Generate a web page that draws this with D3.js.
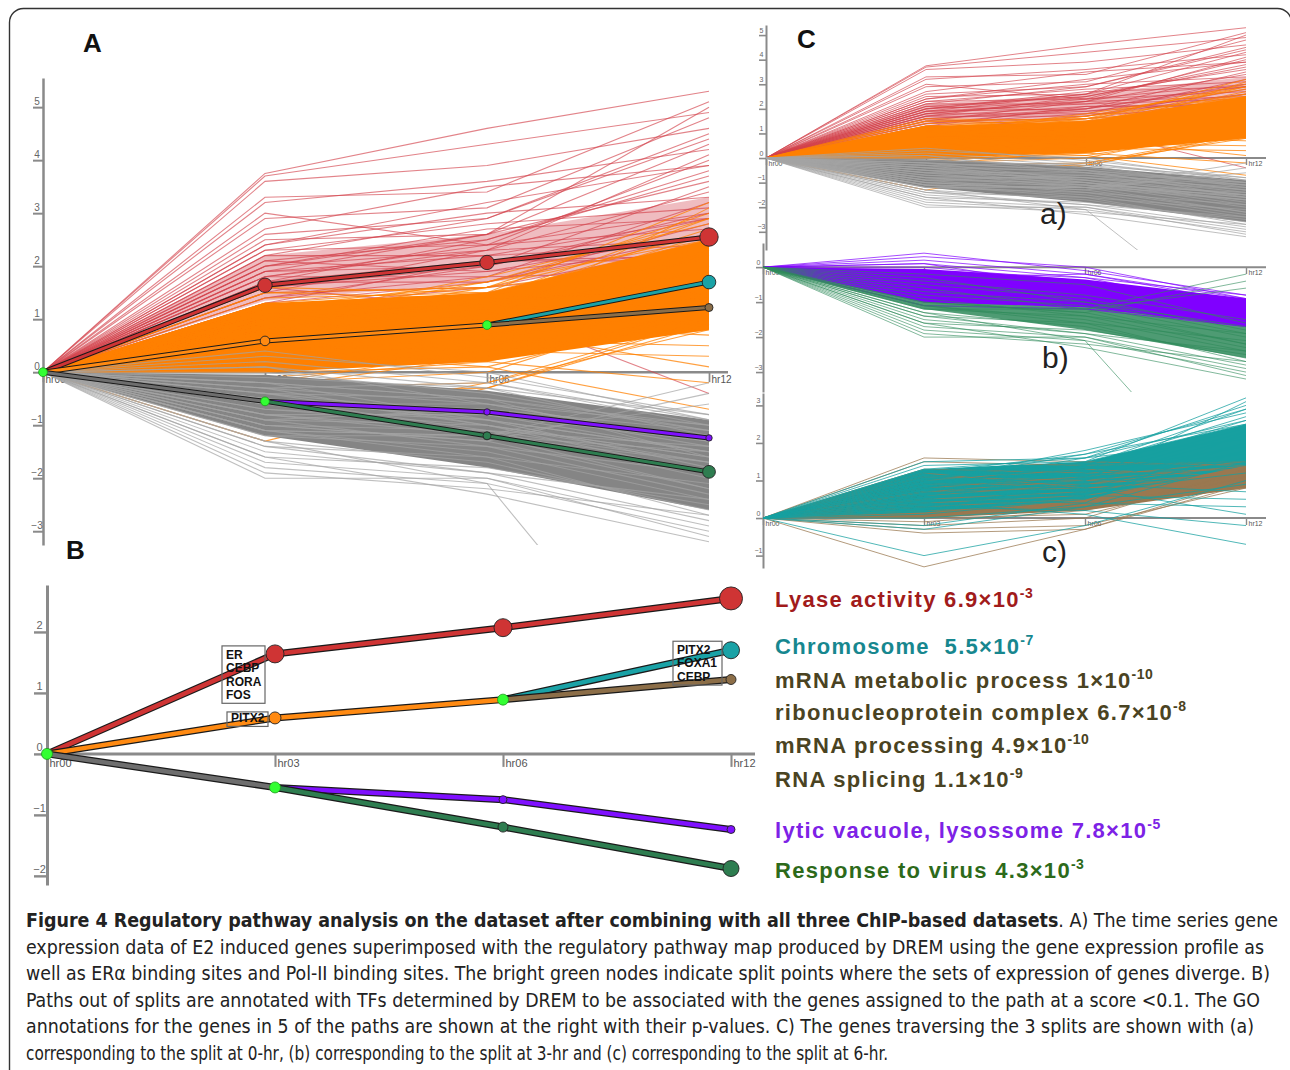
<!DOCTYPE html>
<html><head><meta charset="utf-8">
<script src="https://cdn.jsdelivr.net/npm/d3@7"></script>
<style>body{margin:0;background:#fff}svg{display:block}</style>
</head><body>
<svg id="fig" width="1290" height="1070"></svg>
<script>
// ---------------- DATA ----------------
const timeLabels = ["hr00","hr03","hr06","hr12"];
const ticksA = [-3,-2,-1,0,1,2,3,4,5];
const ticksB = [-2,-1,0,1,2];
const ticksCa = [-3,-2,-1,0,1,2,3,4,5];
const ticksCb = [-3,-2,-1,0];
const ticksCc = [-1,0,1,2,3];

// genes following the upper (red) path out of the 0-hr split
const redGenes = [
 [0,3.75,4.6,5.3],[0,3.7,4.3,4.9],[0,3.6,3.9,4.6],[0,3.3,3.4,5.1],[0,3.2,3.6,4.2],
 [0,2.9,3.1,4.8],[0,2.7,3.5,3.9],[0,2.6,2.9,4.4],[0,2.5,2.6,3.6],[0,2.4,3.0,3.3],
 [0,2.3,2.4,4.0],[0,2.3,2.8,3.1],[0,2.2,2.2,2.9],[0,2.1,2.5,3.7],[0,2.1,1.9,2.6],
 [0,2.0,2.3,3.4],[0,2.0,2.7,2.9],[0,1.9,2.0,3.0],[0,1.9,2.2,2.4],[0,1.8,1.8,3.2],
 [0,1.8,2.4,2.7],[0,1.7,2.1,2.2],[0,1.7,1.7,2.8],[0,1.6,2.0,3.5],[0,1.6,1.9,2.3],
 [0,1.5,2.3,2.5],[0,1.5,1.6,2.0],[0,1.4,2.0,2.9],[0,1.4,1.8,1.9],[0,1.3,1.7,2.6],
 [0,1.3,2.1,2.1],[0,1.2,1.6,2.4],[0,1.1,1.5,2.2],[0,1.0,1.4,1.8],[0,0.9,1.3,2.0],
 [0,2.2,2.9,4.5],[0,2.0,2.6,5.0],[0,1.8,2.3,4.1],[0,3.0,2.4,3.0],[0,1.6,1.2,-0.4],
 [0,2.4,3.2,3.9],[0,1.9,2.6,4.3],[0,1.7,2.5,3.8]
];
const redBandLo = [0,1.35,1.7,2.1];
const redBandHi = [0,2.2,2.6,3.3];

// orange path genes, split at 6 hr into teal and brown
const tealGenes = [
 [0,1.4,1.5,3.2],[0,1.3,1.6,3.0],[0,1.2,1.7,2.9],[0,1.0,1.8,2.8],[0,0.9,1.4,2.7],
 [0,1.1,1.3,2.6],[0,0.8,1.5,2.5],[0,0.7,1.2,2.4],[0,1.3,1.1,2.3],[0,0.6,1.0,2.2],
 [0,0.9,1.6,2.1],[0,0.5,0.9,2.0],[0,1.0,1.2,1.9],[0,0.4,0.8,1.8],[0,0.8,1.3,1.7],
 [0,0.3,0.7,1.6],[0,1.2,1.4,1.5],[0,0.6,1.1,1.4],[0,0.2,0.6,2.0],[0,-0.2,0.4,2.3],
 [0,0.1,0.5,1.8],[0,-0.3,0.3,1.5],[0,1.1,0.9,0.7],[0,0.7,0.6,0.5],[0,0.5,0.4,0.3],
 [0,0.9,0.8,0.1],[0,0.3,0.2,-0.2],[0,0.4,0.1,-0.7],[0,-1.0,-0.2,1.0],[0,1.5,1.6,2.6],
 [0,0.2,1.0,3.1],[0,0.6,1.4,2.9],[0,1.0,1.7,2.5],[0,0.8,0.7,1.2],[0,0.0,0.3,0.9]
];
const tealBandLo = [0,0.15,0.5,1.4];
const tealBandHi = [0,1.3,1.5,2.5];
const brownGenes = [
 [0,1.6,1.5,1.4],[0,1.5,1.4,1.5],[0,1.3,1.2,1.3],[0,1.1,1.0,1.4],[0,0.9,0.9,1.2],
 [0,0.7,0.8,1.1],[0,0.5,0.7,1.3],[0,0.3,0.5,1.0],[0,0.1,0.4,0.9],[0,-0.1,0.2,1.2],
 [0,-0.3,-0.2,0.8],[0,-0.4,-0.3,1.0],[0,-1.3,-0.3,0.9],[0,0.8,1.1,1.5],[0,0.6,0.9,1.4],
 [0,0.4,0.6,1.2],[0,1.0,1.3,1.1],[0,0.2,0.3,0.8],[0,1.2,0.8,1.0],[0,0.0,0.1,1.1],
 [0,0.7,1.0,0.9],[0,-0.2,0.0,1.3]
];
const brownBandLo = [0,0.0,0.2,0.8];
const brownBandHi = [0,1.1,1.2,1.5];

// gray path genes, split at 3 hr into purple and green
const purpleGenes = [
 [0,0.4,-0.1,-0.8],[0,0.3,0.0,-0.9],[0,0.2,-0.2,-1.0],[0,0.1,-0.3,-0.8],[0,0.0,-0.4,-1.1],
 [0,-0.1,-0.3,-1.2],[0,-0.2,-0.5,-1.0],[0,-0.3,-0.6,-1.3],[0,-0.4,-0.5,-1.1],[0,-0.5,-0.7,-1.4],
 [0,-0.6,-0.8,-1.2],[0,-0.7,-0.9,-1.5],[0,-0.8,-0.8,-1.3],[0,-0.9,-1.0,-1.6],[0,-1.0,-1.1,-1.4],
 [0,-1.1,-1.2,-1.7],[0,-0.2,-0.9,-1.5],[0,-0.4,-1.0,-1.6],[0,-0.6,-0.6,-1.0],[0,-0.3,-0.2,-0.9],
 [0,-0.8,-1.2,-1.5],[0,-0.5,-1.1,-1.7],[0,0.1,-0.6,-1.3],[0,-0.9,-0.7,-1.1]
];
const purpleBandLo = [0,-1.0,-1.15,-1.7];
const purpleBandHi = [0,-0.05,-0.35,-0.9];
const greenGenes = [
 [0,-0.2,-0.5,-1.6],[0,-0.5,-0.9,-1.8],[0,-0.8,-1.1,-2.0],[0,-1.0,-1.3,-2.2],[0,-1.1,-1.5,-2.4],
 [0,-1.2,-1.4,-1.9],[0,-1.3,-1.7,-2.6],[0,-1.4,-1.6,-2.1],[0,-1.5,-1.9,-2.8],[0,-1.6,-1.8,-2.5],
 [0,-1.7,-2.0,-2.9],[0,-1.8,-2.1,-3.0],[0,-2.0,-2.0,-3.1],[0,-1.9,-2.2,-2.7],[0,-1.2,-1.2,-0.2],
 [0,-1.0,-1.3,-0.4],[0,-1.1,-1.2,-0.6],[0,-1.3,-2.1,-7.2],[0,-0.9,-1.4,-2.3],[0,-0.7,-1.0,-1.7],
 [0,-1.1,-1.6,-2.7],[0,-0.6,-1.2,-2.2],[0,-1.4,-1.9,-2.4],[0,-0.4,-0.8,-1.5],[0,-1.6,-2.3,-3.2],
 [0,-0.3,-1.0,-1.9]
];
const greenBandLo = [0,-1.2,-1.8,-2.6];
const greenBandHi = [0,-0.55,-1.0,-1.55];

// DREM regulatory paths (mean expression at each node), with start time index
const pathRed = [0,1.64,2.07,2.55];      const pathRedStart = 0;
const pathOrange = [0,0.59,0.89];        const pathOrangeStart = 0;
const pathTeal = [0.89,1.7];             const pathTealStart = 2;
const pathBrown = [0.89,1.22];           const pathBrownStart = 2;
const pathGray = [0,-0.55];              const pathGrayStart = 0;
const pathPurple = [-0.55,-0.75,-1.24];  const pathPurpleStart = 1;
const pathGreen = [-0.55,-1.2,-1.88];    const pathGreenStart = 1;
// node standard deviations (node size)
const sdRed = [null,0.9,0.9,1.15];
const sdOrange = [null,0.6,null];
const sdTeal = [null,0.85];
const sdBrown = [null,0.5];
const sdPurple = [null,0.4,0.4];
const sdGreen = [null,0.5,0.8];
const splitNodes = [[0,0],[1,-0.55],[2,0.89]]; // [time index, value]
const sdSplit = 0.55;

const tfRed = ["ER","CEBP","RORA","FOS"];
const tfOrange = ["PITX2"];
const tfTeal = ["PITX2","FOXA1","CEBP"];

const goTerms = ["Lyase activity 6.9×10","Chromosome  5.5×10","mRNA metabolic process 1×10",
 "ribonucleoprotein complex 6.7×10","mRNA processing 4.9×10","RNA splicing 1.1×10",
 "lytic vacuole, lysossome 7.8×10","Response to virus 4.3×10"];
const goExp = ["-3","-7","-10","-8","-10","-9","-5","-3"];

const captionBold = "Figure 4 Regulatory pathway analysis on the dataset after combining with all three ChIP-based datasets";
const captionLines = [
 ". A) The time series gene",
 "expression data of E2 induced genes superimposed with the regulatory pathway map produced by DREM using the gene expression profile as",
 "well as ERα binding sites and Pol-II binding sites. The bright green nodes indicate split points where the sets of expression of genes diverge. B)",
 "Paths out of splits are annotated with TFs determined by DREM to be associated with the genes assigned to the path at a score <0.1. The GO",
 "annotations for the genes in 5 of the paths are shown at the right with their p-values. C) The genes traversing the 3 splits are shown with (a)",
 "corresponding to the split at 0-hr, (b) corresponding to the split at 3-hr and (c) corresponding to the split at 6-hr."
];

// ---------------- DRAWING ----------------
const svg = d3.select("#fig");
const FONT = "'Liberation Sans', Arial, Helvetica, sans-serif";
const COL = {
  redLine:"#d2404a", orange:"#ff8000", gray:"#8c8c8c", purple:"#8000ff", green:"#2f8a5a",
  teal:"#17a0a0", brown:"#9a7850",
  pRed:"#cf3434", pOrange:"#ff8a12", pGray:"#6e6e6e", pTeal:"#1aa2a6", pBrown:"#8c6e48",
  pPurple:"#7f10ff", pGreen:"#2e7d50", split:"#33ff33", axis:"#8a8a8a"
};

// frame
svg.append("rect").attr("x",9.5).attr("y",8.5).attr("width",1282).attr("height",1080)
  .attr("rx",14).attr("fill","none").attr("stroke","#333").attr("stroke-width",1.4);

let clipId = 0;
function makePanel(cfg){
  const g = svg.append("g");
  const x = d3.scalePoint().domain(timeLabels).range(cfg.xr);
  const y = d3.scaleLinear().domain(cfg.yd).range(cfg.yr);
  const ax = d3.axisLeft(y).tickValues(cfg.ticks).tickSize(cfg.tick).tickSizeOuter(0).tickFormat(d3.format("d"));
  const ag = g.append("g").attr("transform",`translate(${cfg.xr[0]},0)`).call(ax);
  ag.select(".domain").attr("stroke",COL.axis).attr("stroke-width",cfg.aw);
  ag.selectAll(".tick line").attr("stroke",COL.axis).attr("stroke-width",cfg.aw*0.8);
  ag.selectAll(".tick text").attr("x",-cfg.tick/2-1).attr("dy",-3).attr("text-anchor","middle")
    .attr("fill","#666").attr("font-size",cfg.fs).attr("font-family",FONT);
  const xa = d3.axisBottom(x).tickSize(cfg.tick).tickSizeOuter(0);
  const xg = g.append("g").attr("transform",`translate(0,${y(0)})`).call(xa);
  xg.select(".domain").attr("d",`M${cfg.xr[0]},0H${cfg.xr[1]+cfg.ext}`).attr("stroke",COL.axis).attr("stroke-width",cfg.aw);
  xg.selectAll(".tick line").attr("stroke",COL.axis).attr("stroke-width",cfg.aw*0.7);
  xg.selectAll(".tick text").attr("text-anchor","start").attr("x",2).attr("y",cfg.tick*0.4).attr("dy","0.71em")
    .attr("fill","#555").attr("font-size",cfg.fs).attr("font-family",FONT);
  const id = "clip"+(clipId++);
  svg.append("clipPath").attr("id",id).append("rect")
    .attr("x",cfg.xr[0]-12).attr("y",cfg.yr[1]).attr("width",cfg.xr[1]-cfg.xr[0]+24).attr("height",cfg.yr[0]-cfg.yr[1]);
  const data = g.append("g").attr("clip-path",`url(#${id})`);
  return {g, data, x, y};
}

function band(p, lo, hi, fill, op){
  const area = d3.area().x(i=>p.x(timeLabels[i])).y0(i=>p.y(lo[i])).y1(i=>p.y(hi[i]));
  p.data.append("path").attr("d",area([0,1,2,3])).attr("fill",fill).attr("opacity",op);
}
function genes(p, list, color, op, w){
  const line = d3.line().x((d,i)=>p.x(timeLabels[i])).y(d=>p.y(d));
  p.data.append("g").selectAll("path").data(list).join("path")
    .attr("d",line).attr("fill","none").attr("stroke",color).attr("stroke-opacity",op).attr("stroke-width",w);
}
function treePath(p, vals, start, color, wo, wi){
  const line = d3.line().x((d,i)=>p.x(timeLabels[start+i])).y(d=>p.y(d));
  p.g.append("path").attr("d",line(vals)).attr("fill","none").attr("stroke","#1a1a1a").attr("stroke-width",wo).attr("stroke-linecap","round");
  p.g.append("path").attr("d",line(vals)).attr("fill","none").attr("stroke",color).attr("stroke-width",wi).attr("stroke-linecap","round");
}
function treeNodes(p, vals, start, sd, color, k){
  vals.forEach((v,i)=>{ if(sd[i]==null) return;
    p.g.append("circle").attr("cx",p.x(timeLabels[start+i])).attr("cy",p.y(v)).attr("r",sd[i]*k)
      .attr("fill",color).attr("stroke","#222").attr("stroke-width",0.9);
  });
}
function drawTree(p, k, wo, wi){
  treePath(p, pathRed, pathRedStart, COL.pRed, wo, wi);
  treePath(p, pathOrange, pathOrangeStart, COL.pOrange, wo, wi);
  treePath(p, pathGray, pathGrayStart, COL.pGray, wo, wi);
  treePath(p, pathTeal, pathTealStart, COL.pTeal, wo, wi);
  treePath(p, pathBrown, pathBrownStart, COL.pBrown, wo, wi);
  treePath(p, pathPurple, pathPurpleStart, COL.pPurple, wo, wi);
  treePath(p, pathGreen, pathGreenStart, COL.pGreen, wo, wi);
  treeNodes(p, pathRed, pathRedStart, sdRed, COL.pRed, k);
  treeNodes(p, pathOrange, pathOrangeStart, sdOrange, COL.pOrange, k);
  treeNodes(p, pathTeal, pathTealStart, sdTeal, COL.pTeal, k);
  treeNodes(p, pathBrown, pathBrownStart, sdBrown, COL.pBrown, k);
  treeNodes(p, pathPurple, pathPurpleStart, sdPurple, COL.pPurple, k);
  treeNodes(p, pathGreen, pathGreenStart, sdGreen, COL.pGreen, k);
  splitNodes.forEach(([t,v])=>{
    p.g.append("circle").attr("cx",p.x(timeLabels[t])).attr("cy",p.y(v)).attr("r",sdSplit*k)
      .attr("fill",COL.split).attr("stroke","#1b9a1b").attr("stroke-width",0.8);
  });
}

// ---------- Panel A ----------
const A = makePanel({xr:[43,709], yd:[-3.26,5.55], yr:[545,78], ticks:ticksA, tick:10, aw:2.5, fs:10, ext:19});
band(A, redBandLo, redBandHi, COL.redLine, 0.35);
genes(A, redGenes, COL.redLine, 0.65, 1.1);
band(A, tealBandLo, tealBandHi, COL.orange, 1);
band(A, brownBandLo, brownBandHi, COL.orange, 1);
genes(A, tealGenes, COL.orange, 0.75, 1.1);
genes(A, brownGenes, COL.orange, 0.75, 1.1);
band(A, purpleBandLo, purpleBandHi, "#858585", 1);
band(A, greenBandLo, greenBandHi, "#858585", 1);
genes(A, purpleGenes, "#a4a4a4", 0.7, 1.1);
genes(A, greenGenes, "#a4a4a4", 0.7, 1.1);
drawTree(A, 8, 5, 3);
svg.append("text").attr("x",83).attr("y",52).text("A").attr("font-family",FONT).attr("font-weight","bold").attr("font-size",26).attr("fill","#111");

// ---------- Panel B ----------
const B = makePanel({xr:[47,731], yd:[-2.15,2.77], yr:[885,585], ticks:ticksB, tick:13, aw:3, fs:11, ext:24});
drawTree(B, 10, 7, 4.5);
function tfBox(p, labels, t, v, dx, dy, w, lh){
  const bx = p.x(timeLabels[t]) + dx, by = p.y(v) + dy;
  const h = labels.length*lh + 3;
  p.g.append("rect").attr("x",bx).attr("y",by).attr("width",w).attr("height",h)
    .attr("fill","none").attr("stroke","#666").attr("stroke-width",1.2);
  labels.forEach((s,i)=>p.g.append("text").attr("x",bx+4).attr("y",by+lh*(i+1)-1).text(s)
    .attr("font-family",FONT).attr("font-weight","bold").attr("font-size",12).attr("fill","#111"));
}
tfBox(B, tfRed, 1, pathRed[1], -53, -8, 43, 13.6);
tfBox(B, tfOrange, 1, pathOrange[1], -48, -6, 41, 11.5);
tfBox(B, tfTeal, 3, pathTeal[1], -58, -9, 49, 13.6);
svg.append("text").attr("x",66).attr("y",559).text("B").attr("font-family",FONT).attr("font-weight","bold").attr("font-size",26).attr("fill","#111");

// GO annotations
const goColors = ["#a11b1b","#17878f","#4a4322","#4a4322","#4a4322","#4a4322","#7d22e6","#2d6a1a"];
const goY = [607,654,688,720,753,787,838,878];
goTerms.forEach((t,i)=>{
  const tx = svg.append("text").attr("x",775).attr("y",goY[i]).attr("font-family",FONT).attr("font-weight","bold")
    .attr("font-size",22).attr("letter-spacing",1.3).attr("fill",goColors[i]).attr("xml:space","preserve");
  tx.append("tspan").text(t);
  tx.append("tspan").attr("font-size",14).attr("letter-spacing",0.5).attr("dy",-9).text(goExp[i]);
});

// ---------- Panel C ----------
const Ca = makePanel({xr:[766,1246], yd:[-3.74,5.41], yr:[250,25], ticks:ticksCa, tick:7, aw:2, fs:7, ext:20});
band(Ca, redBandLo, redBandHi, COL.redLine, 0.35);
genes(Ca, redGenes, COL.redLine, 0.65, 1);
band(Ca, tealBandLo, tealBandHi, COL.orange, 1);
band(Ca, brownBandLo, brownBandHi, COL.orange, 1);
genes(Ca, tealGenes, COL.orange, 0.75, 1);
genes(Ca, brownGenes, COL.orange, 0.75, 1);
band(Ca, purpleBandLo, purpleBandHi, "#858585", 1);
band(Ca, greenBandLo, greenBandHi, "#858585", 1);
genes(Ca, purpleGenes, "#a4a4a4", 0.7, 1);
genes(Ca, greenGenes, "#a4a4a4", 0.7, 1);
svg.append("text").attr("x",797).attr("y",48).text("C").attr("font-family",FONT).attr("font-weight","bold").attr("font-size",26).attr("fill","#111");
svg.append("text").attr("x",1040).attr("y",224).text("a)").attr("font-family",FONT).attr("font-size",30).attr("fill","#222");

const Cb = makePanel({xr:[763,1246], yd:[-3.57,0.69], yr:[392,243], ticks:ticksCb, tick:7, aw:2, fs:7, ext:20});
band(Cb, greenBandLo, greenBandHi, COL.green, 0.85);
band(Cb, purpleBandLo, purpleBandHi, COL.purple, 1);
genes(Cb, purpleGenes, COL.purple, 0.7, 1);
genes(Cb, greenGenes, COL.green, 0.6, 1);
svg.append("text").attr("x",1042).attr("y",368).text("b)").attr("font-family",FONT).attr("font-size",30).attr("fill","#222");

const Cc = makePanel({xr:[763,1246], yd:[-1.33,3.33], yr:[568,393], ticks:ticksCc, tick:7, aw:2, fs:7, ext:20});
band(Cc, brownBandLo, brownBandHi, COL.brown, 1);
band(Cc, tealBandLo, tealBandHi, COL.teal, 1);
genes(Cc, brownGenes, COL.brown, 0.75, 1);
genes(Cc, tealGenes, COL.teal, 0.75, 1);
svg.append("text").attr("x",1042).attr("y",562).text("c)").attr("font-family",FONT).attr("font-size",30).attr("fill","#222");

// ---------- caption ----------
const CAPFONT = "'Liberation Sans Narrow','DejaVu Sans Condensed','Open Sans',sans-serif";
const capEnds = [1278,1264,1270,1260,1254,888];
captionLines.forEach((s,i)=>{
  const t = svg.append("text").attr("x",26).attr("y",927+i*26.6).attr("font-family",CAPFONT)
    .attr("font-size",19).attr("fill","#222").attr("textLength",capEnds[i]-26).attr("lengthAdjust","spacingAndGlyphs");
  if(i===0) t.append("tspan").attr("font-weight","bold").text(captionBold);
  t.append("tspan").text(s);
});
</script>
</body></html>
